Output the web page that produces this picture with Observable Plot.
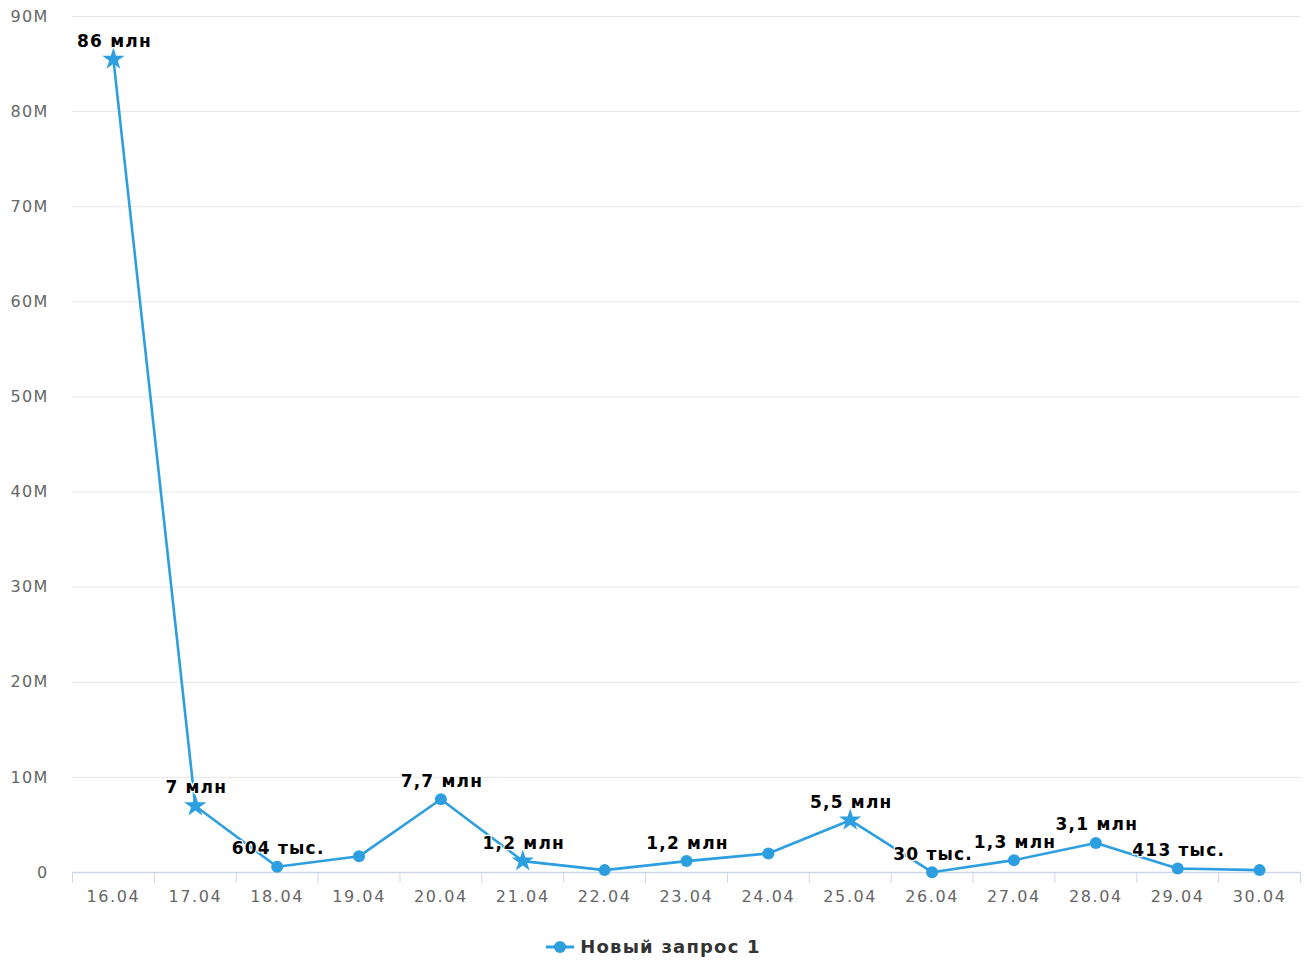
<!DOCTYPE html>
<html>
<head>
<meta charset="utf-8">
<script src="https://cdn.jsdelivr.net/npm/d3@7"></script>
<script src="https://cdn.jsdelivr.net/npm/@observablehq/plot@0.6"></script>
<style>
  body { margin: 0; background: #fff; font-family: "DejaVu Sans", sans-serif; }
  #legend { width: 1307px; text-align: center; font: bold 18px "DejaVu Sans", sans-serif; color: #333; letter-spacing: 1.2px; margin-top: 21px; }
  #legend svg { vertical-align: -1px; margin-right: 6px; }
  g[aria-label="x-axis tick label"] text { letter-spacing: 1.6px; }
  g[aria-label="y-axis tick label"] text { letter-spacing: 1.3px; }
  g[aria-label="text"] text { letter-spacing: 1.2px; }
</style>
</head>
<body>
<div id="chart"></div>
<div id="legend"></div>
<script>
const dates = ["16.04","17.04","18.04","19.04","20.04","21.04","22.04","23.04","24.04","25.04","26.04","27.04","28.04","29.04","30.04"];
const values = [85500000, 7000000, 604000, 1700000, 7700000, 1200000, 250000, 1200000, 2000000, 5500000, 30000, 1300000, 3100000, 413000, 250000];
const labels = ["86 млн","7 млн","604 тыс.",null,"7,7 млн","1,2 млн",null,"1,2 млн",null,"5,5 млн","30 тыс.","1,3 млн","3,1 млн","413 тыс.",null];
const stars = [true, true, false, false, false, true, false, false, false, true, false, false, false, false, false];
const seriesName = "Новый запрос 1";
const yTicks = [0, 10e6, 20e6, 30e6, 40e6, 50e6, 60e6, 70e6, 80e6, 90e6];

const color = "#2d9fe0";
const data = dates.map((d, i) => ({i, date: d, value: values[i], label: labels[i], star: stars[i]}));
const boundaries = d3.range(dates.length + 1).map(k => k - 0.5);

const chart = Plot.plot({
  width: 1307,
  height: 915,
  marginLeft: 72,
  marginRight: 7,
  marginTop: 16,
  marginBottom: 43,
  style: {fontFamily: "DejaVu Sans, sans-serif", background: "#fff"},
  x: {type: "linear", domain: [-0.5, dates.length - 0.5], label: null},
  y: {domain: [0, 90e6], label: null},
  marks: [
    Plot.gridY(yTicks, {stroke: "#e6e6e6", strokeOpacity: 1}),
    Plot.axisY(yTicks, {tickSize: 0, tickPadding: 24, fontSize: 16, fill: "#666", label: null, tickFormat: d => d === 0 ? "0" : (d / 1e6) + "M"}),
    Plot.ruleY([0], {stroke: "#ccd6eb", strokeWidth: 1.5}),
    Plot.axisX(boundaries, {tickSize: 11, stroke: "#ccd6eb", label: null, tickFormat: () => ""}),
    Plot.axisX(d3.range(dates.length), {tickSize: 0, tickPadding: 18, fontSize: 16, fill: "#666", label: null, tickFormat: d => dates[d]}),
    Plot.line(data, {x: "i", y: "value", stroke: color, strokeWidth: 2.6}),
    Plot.dot(data.filter(d => !d.star), {x: "i", y: "value", r: 6, fill: color, symbol: "circle"}),
    Plot.dot(data.filter(d => d.star), {x: "i", y: "value", r: 7, fill: color, symbol: "star"}),
    Plot.text(data.filter(d => d.label), {x: "i", y: "value", text: "label", dy: -18, dx: 1, fontSize: 17, fontWeight: "bold", fill: "#000", stroke: "#fff", strokeWidth: 2.5, paintOrder: "stroke"})
  ]
});
document.getElementById("chart").append(chart);

document.getElementById("legend").innerHTML =
  `<svg width="28" height="14"><line x1="0" y1="7" x2="28" y2="7" stroke="${color}" stroke-width="3"/><circle cx="14" cy="7" r="6" fill="${color}"/></svg>` + seriesName;
</script>
</body>
</html>
